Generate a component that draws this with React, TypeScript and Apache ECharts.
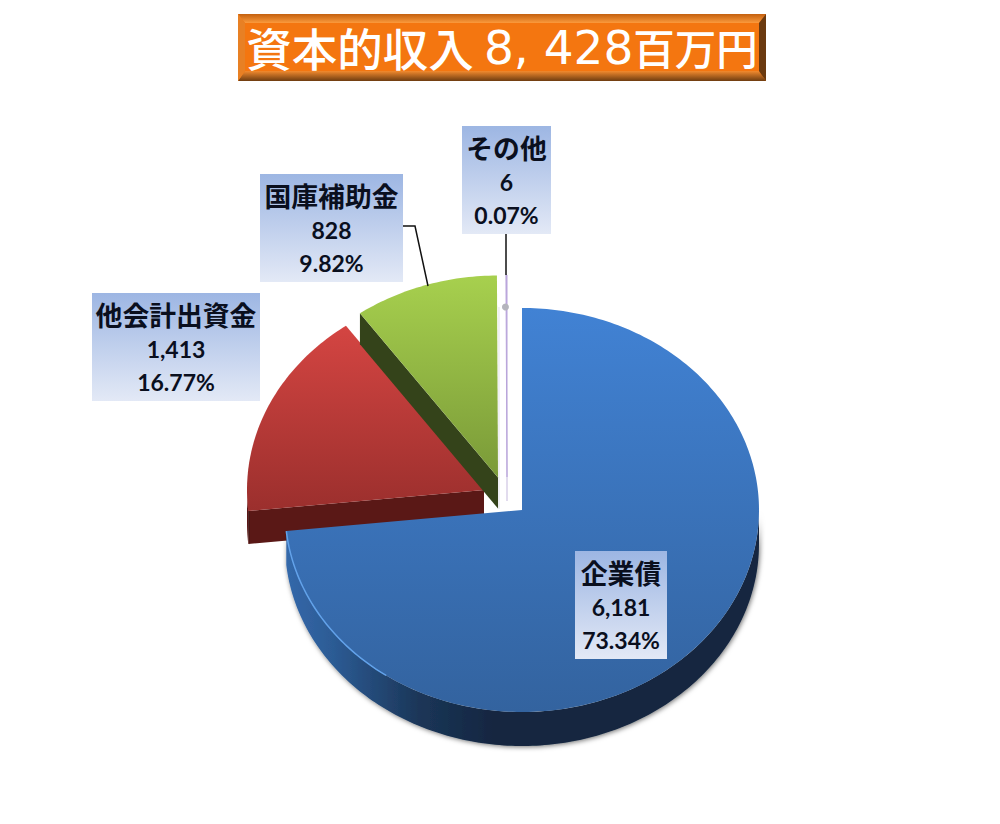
import React, { useEffect, useRef } from "react";
import * as echarts from "echarts";

const CATEGORIES = ["企業債", "他会計出資金", "国庫補助金", "その他"];
const VALUES = [6181, 1413, 828, 6];
const PERCENT_LABELS = ["73.34%", "16.77%", "9.82%", "0.07%"];
const VALUE_LABELS = ["6,181", "1,413", "828", "6"];

const RX = 237;
const RY = 202;
const DEPTHS = [34, 33, 31, 24];
const CENTERS = [[522, 510], [484, 490], [498, 477.5], [507, 477]];
const Z_ORDER = [40, 10, 20, 30];
const TOP_COLORS = [["#4182d4", "#33639f"], ["#d44542", "#9b2f2d"], ["#a7d04e", "#7a9a38"], ["#c0a8e0", "#c8b8e4"]];
const WALL_COLORS = ["#14263f", "#5a1816", "#34431a", "#d8d0e8"];
const LABEL_BOXES = [[575, 551, 92, 108], [92, 293, 168, 108], [260, 174, 143, 108], [462, 126, 89, 108]];
const LEADERS: number[][][] = [[], [], [[403, 226], [415, 226], [428, 286]], [[506, 234], [506, 275]]];

const CJK = '"Noto Sans CJK JP"';
const LATIN = 'Lato, "Open Sans", sans-serif';
const grad = (a: string, b: string) => new echarts.graphic.LinearGradient(0, 0, 0, 1, [{ offset: 0, color: a }, { offset: 1, color: b }]);

function pt(c: number[], deg: number, dy = 0) {
  const r = (deg * Math.PI) / 180;
  return [c[0] + RX * Math.sin(r), c[1] - RY * Math.cos(r) + dy];
}
function arc(c: number[], a: number, b: number, dy = 0) {
  const n = Math.max(1, Math.ceil(Math.abs(b - a)));
  const out: number[][] = [];
  for (let i = 0; i <= n; i++) out.push(pt(c, a + ((b - a) * i) / n, dy));
  return out;
}

const TOTAL = VALUES.reduce((s, v) => s + v, 0);

function renderSlice(params: any, api: any) {
  const i = params.dataIndex;
  let start = 0;
  for (let k = 0; k < i; k++) start += (VALUES[k] / TOTAL) * 360;
  const end = start + (api.value(0) / TOTAL) * 360;
  const c = CENTERS[i];
  const z = Z_ORDER[i];
  const depth = DEPTHS[i];
  const children: any[] = [];

  // visible cut at the slice's starting edge
  if (Math.sin((start * Math.PI) / 180) < -0.01) {
    const p = pt(c, start);
    children.push({
      type: "polygon", z2: z,
      shape: { points: [c, p, [p[0], p[1] + depth], [c[0], c[1] + depth]] },
      style: { fill: WALL_COLORS[i] },
    });
  }
  // outer wall on the front half
  const a = Math.max(start, 90);
  const b = Math.min(end, 270);
  if (b > a) {
    const fill = i === 0
      ? new echarts.graphic.LinearGradient(0, 0, 1, 0, [
          { offset: 0, color: "#3468aa" },
          { offset: 0.1, color: "#2c5b94" },
          { offset: 0.28, color: "#1b3658" },
          { offset: 0.45, color: "#13253f" },
          { offset: 1, color: "#14263f" },
        ])
      : WALL_COLORS[i];
    children.push({
      type: "polygon", z2: z,
      shape: { points: [...arc(c, a, b), ...arc(c, b, a, depth)] },
      style: { fill, shadowBlur: i === 0 ? 5 : 0, shadowColor: "rgba(0,0,0,0.55)", shadowOffsetX: 1, shadowOffsetY: 1 },
    });
  }
  // top face
  children.push({
    type: "polygon", z2: z + 1,
    shape: { points: [c, ...arc(c, start, end)] },
    style: {
      fill: grad(TOP_COLORS[i][0], TOP_COLORS[i][1]),
      stroke: i === 3 ? "#b8a4da" : undefined,
      lineWidth: i === 3 ? 1 : 0,
    },
  });
  if (i === 0) {
    children.push({
      type: "polyline", z2: z + 2,
      shape: { points: arc(c, 215, end) },
      style: { stroke: "#62a2ea", lineWidth: 1.5, fill: "none" },
    });
  }
  if (i === 3) {
    const p = pt(c, start);
    children.push({ type: "line", z2: z + 2, shape: { x1: c[0], y1: c[1], x2: c[0], y2: c[1] + depth }, style: { stroke: WALL_COLORS[3], lineWidth: 1.5 } });
    children.push({ type: "line", z2: z + 2, shape: { x1: p[0] - 7, y1: p[1] + 32, x2: p[0] - 7, y2: c[1] + 32 }, style: { stroke: "#e2e2e8", lineWidth: 1 } });
    children.push({ type: "circle", z2: z + 2, shape: { cx: p[0] - 0.5, cy: p[1] + 32, r: 3.5 }, style: { fill: "#b4b4bc" } });
  }
  // leader line
  if (LEADERS[i].length) {
    children.push({
      type: "polyline", z2: 60,
      shape: { points: LEADERS[i] },
      style: { stroke: "#111111", lineWidth: 1.5, fill: "none" },
    });
  }
  // label box with three lines of text
  const [x, y, w, h] = LABEL_BOXES[i];
  children.push({ type: "rect", z2: 70, shape: { x, y, width: w, height: h }, style: { fill: grad("#9db6e3", "#e3e9f6") } });
  const rows: [string, number, string, number][] = [
    [CATEGORIES[i], 21, CJK, 26.8],
    [VALUE_LABELS[i], 56, LATIN, 23],
    [PERCENT_LABELS[i], 89, LATIN, 23],
  ];
  rows.forEach(([text, dy, fontFamily, fontSize]) => {
    children.push({
      type: "text", z2: 80,
      style: { text, x: x + w / 2, y: y + dy, align: "center", verticalAlign: "middle", fill: "#0a0f1e", fontFamily, fontSize, fontWeight: "bold" },
    });
  });
  return { type: "group", children };
}

function titleGraphic() {
  const [l, t, r, b] = [238, 14, 766, 81];
  const [il, it, ir, ib] = [245, 23, 759, 71];
  return [
    { type: "rect", z: 1, shape: { x: l, y: t, width: r - l, height: b - t }, style: { fill: "#f47610" } },
    { type: "polygon", z: 2, shape: { points: [[l, t], [r, t], [ir, it], [il, it]] }, style: { fill: grad("#c4600e", "#fb9a3c") } },
    { type: "polygon", z: 2, shape: { points: [[l, b], [r, b], [ir, ib], [il, ib]] }, style: { fill: grad("#f28a2e", "#6e3c10") } },
    { type: "polygon", z: 2, shape: { points: [[l, t], [il, it], [il, ib], [l, b]] }, style: { fill: "#e88024" } },
    { type: "polygon", z: 2, shape: { points: [[r, t], [ir, it], [ir, ib], [r, b]] }, style: { fill: "#6b3a10" } },
    {
      type: "text", z: 3, x: 502, y: 47,
      style: {
        text: "{c|資本的収入 }{b|8, 428}{a|百万円}",
        align: "center", verticalAlign: "middle", fill: "#ffffff",
        rich: {
          c: { fontFamily: CJK, fontSize: 45.5, fontWeight: 500, fill: "#ffffff", color: "#ffffff" },
          a: { fontFamily: CJK, fontSize: 41.5, fontWeight: 500, fill: "#ffffff", color: "#ffffff" },
          b: { fontFamily: '"DejaVu Sans"', fontSize: 47, fill: "#ffffff", color: "#ffffff" },
        },
      },
    },
  ];
}

export default function App() {
  const ref = useRef<HTMLDivElement>(null);
  useEffect(() => {
    const chart = echarts.init(ref.current!, null, { renderer: "svg" });
    chart.setOption({
      animation: false,
      backgroundColor: "#ffffff",
      graphic: titleGraphic(),
      series: [{
        type: "custom",
        coordinateSystem: "none",
        silent: true,
        clip: false,
        data: VALUES.map((v) => [v]),
        renderItem: renderSlice,
      }],
    });
    return () => chart.dispose();
  }, []);
  return <div ref={ref} style={{ position: "absolute", left: 0, top: 0, width: 1000, height: 824 }} />;
}
